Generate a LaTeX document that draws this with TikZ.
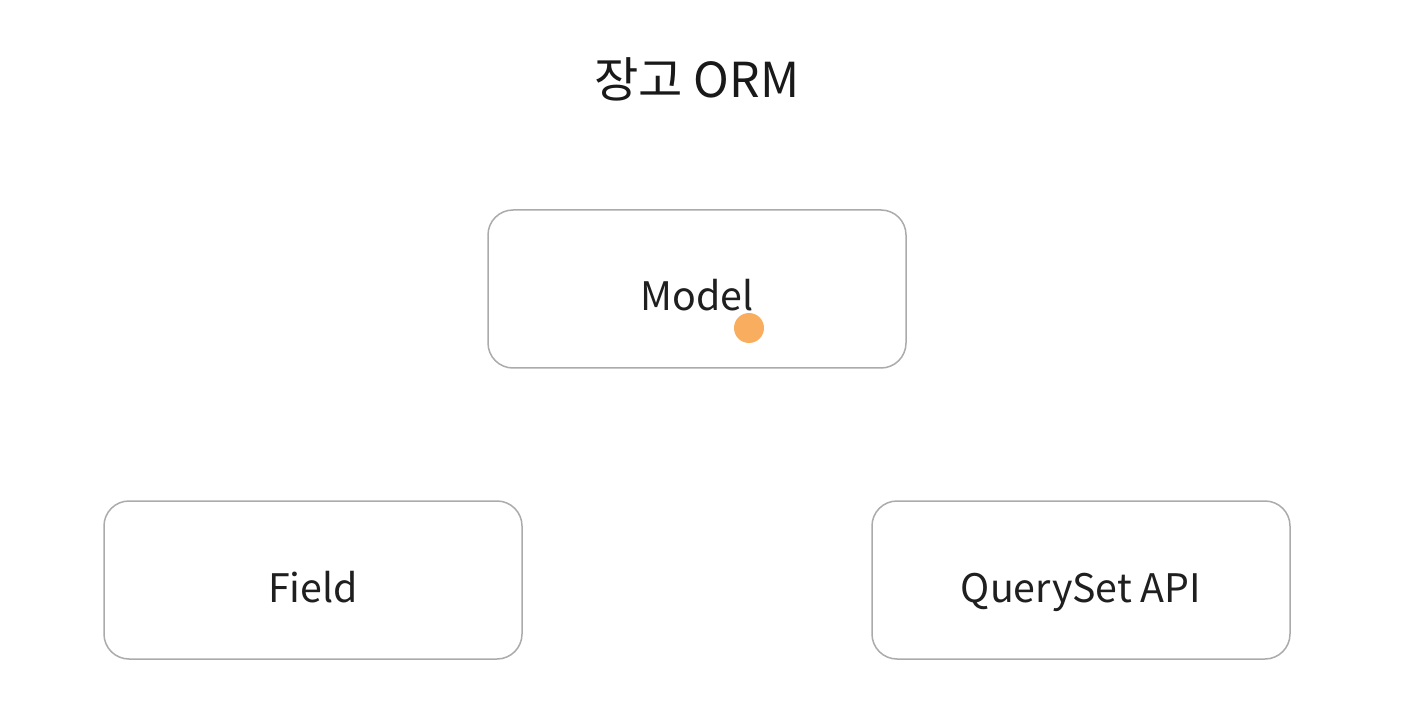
\documentclass[tikz,border=0pt]{standalone}
\usepackage{fontspec}
\setmainfont{Noto Sans CJK KR}
\begin{document}
\begin{tikzpicture}[x=1pt,y=-1pt,
  box/.style={draw=black!33, line width=1.5pt, rounded corners=25pt, minimum width=418pt, minimum height=158pt, inner sep=0pt},
  lbl/.style={font=\fontsize{39.3}{45}\selectfont, text=black!88, anchor=base},
  ttl/.style={font=\fontsize{48.2}{55}\selectfont, text=black!90, anchor=base}]
\useasboundingbox (0,0) rectangle (1405,708);
\fill[white] (0,0) rectangle (1405,708);
\node[ttl] (title) at (697,98) {장고 ORM};
\node[box] (model) at (697,289) {};
\node[box] (field) at (313,580) {};
\node[box] (qs) at (1081,580) {};
\node[lbl] (modelt) at (697,311) {Model};
\node[lbl] (fieldt) at (313,602) {Field};
\node[lbl] (qst) at (1081,602) {QuerySet API};
\fill[fill={rgb,255:red,249;green,174;blue,95}] (749,328) circle (15);
\end{tikzpicture}
\end{document}
